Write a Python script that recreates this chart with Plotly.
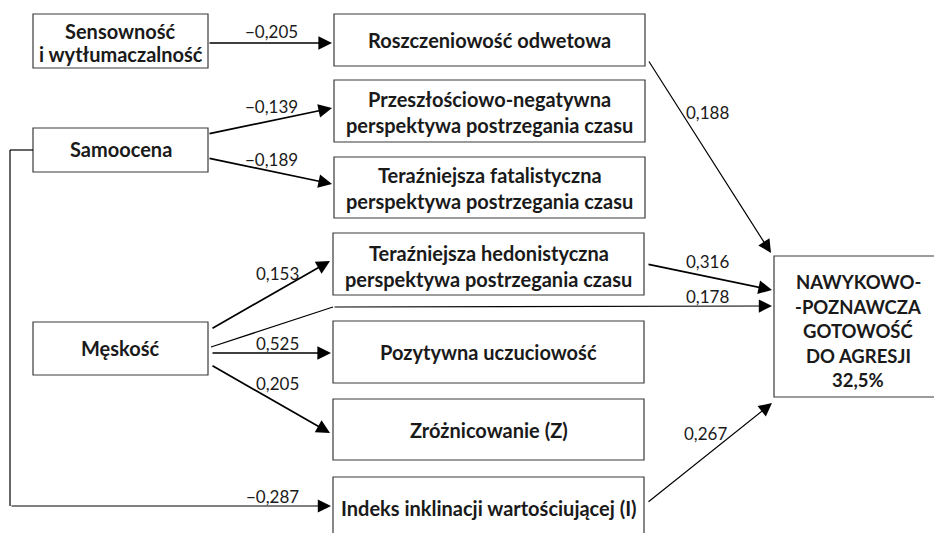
import plotly.graph_objects as go

# ---- data ----
node_ids = ["sens", "samo", "mesk", "rosz", "przesz", "fatal", "hedon", "pozyt", "zroz", "indeks", "target"]
node_lines = [
    ["Sensowność", "i wytłumaczalność"],
    ["Samoocena"],
    ["Męskość"],
    ["Roszczeniowość odwetowa"],
    ["Przeszłościowo-negatywna", "perspektywa postrzegania czasu"],
    ["Teraźniejsza fatalistyczna", "perspektywa postrzegania czasu"],
    ["Teraźniejsza hedonistyczna", "perspektywa postrzegania czasu"],
    ["Pozytywna uczuciowość"],
    ["Zróżnicowanie (Z)"],
    ["Indeks inklinacji wartościującej (I)"],
    ["NAWYKOWO-", "-POZNAWCZA", "GOTOWOŚĆ", "DO AGRESJI", "32,5%"],
]
path_from = ["sens", "samo", "samo", "mesk", "mesk", "mesk", "mesk", "samo", "rosz", "hedon", "indeks"]
path_to = ["rosz", "przesz", "fatal", "hedon", "target", "pozyt", "zroz", "indeks", "target", "target", "target"]
path_coef = ["−0,205", "−0,139", "−0,189", "0,153", "0,178", "0,525", "0,205", "−0,287", "0,188", "0,316", "0,267"]

# ---- layout geometry (pixels) ----
boxes = {
    "sens": (33, 14, 208, 68),
    "samo": (33, 128, 208, 172),
    "mesk": (33, 322, 208, 375),
    "rosz": (334, 14, 645, 66),
    "przesz": (334, 80, 645, 142),
    "fatal": (334, 157, 645, 218),
    "hedon": (333, 233, 644, 295),
    "pozyt": (333, 321, 644, 383),
    "zroz": (333, 399, 644, 460),
    "indeks": (333, 477, 644, 545),
    "target": (774, 256, 950, 397),
}
line_gap = {"sens": 23, "przesz": 26, "fatal": 26, "hedon": 26, "target": 24.5}
text_center_y = {"sens": 42, "samo": 149, "mesk": 348, "rosz": 40, "przesz": 112, "fatal": 188,
                 "hedon": 266, "pozyt": 352, "zroz": 430, "indeks": 508, "target": 331}
text_center_x = {"target": 858}
text_size = {"target": 18.5}
arrow_pts = [
    [(208, 43), (332, 43)],
    [(208, 134), (332, 108)],
    [(208, 158), (332, 184)],
    [(211, 329), (330, 261)],
    [(211, 347), (333, 307), (772, 306)],
    [(211, 353), (331, 353)],
    [(211, 365), (330, 433)],
    [(33, 150), (10, 150), (10, 506), (331, 506)],
    [(648, 60), (771, 253)],
    [(647, 264), (772, 290)],
    [(647, 503), (772, 403)],
]
label_pos = [(271, 31), (271, 106), (271, 159), (277, 273), (707, 296), (277, 343), (277, 383),
             (272, 496), (707, 112), (707, 261), (705, 433)]
thin = [False, False, False, False, True, False, False, True, True, False, True]

TXT = "#1a1a1a"
REG = dict(family="Lato", size=17, color=TXT)

fig = go.Figure()
shapes = []
annotations = []

for nid, lines in zip(node_ids, node_lines):
    x0, y0, x1, y1 = boxes[nid]
    shapes.append(dict(type="rect", x0=x0, y0=y0, x1=x1, y1=y1, xref="x", yref="y",
                       line=dict(color="#3a3a3a", width=1.2), fillcolor="white", layer="below"))
    gap = line_gap.get(nid, 0)
    n = len(lines)
    cx = text_center_x.get(nid, (x0 + x1) / 2)
    bold = dict(family="Lato", size=text_size.get(nid, 20), color=TXT, weight="bold")
    for i, t in enumerate(lines):
        y = text_center_y[nid] + (i - (n - 1) / 2) * gap
        annotations.append(dict(x=cx, y=y, xref="x", yref="y", text=t, showarrow=False,
                                font=bold, xanchor="center", yanchor="middle"))

for pts, coef, lp, th in zip(arrow_pts, path_coef, label_pos, thin):
    w = 1.2 if th else 1.7
    for (xa, ya), (xb, yb) in zip(pts[:-2], pts[1:-1]):
        shapes.append(dict(type="line", x0=xa, y0=ya, x1=xb, y1=yb, xref="x", yref="y",
                           line=dict(color="black", width=w)))
    (xa, ya), (xb, yb) = pts[-2], pts[-1]
    annotations.append(dict(x=xb, y=yb, ax=xa, ay=ya, xref="x", yref="y", axref="x", ayref="y",
                            text="", showarrow=True, arrowhead=2, arrowsize=1.6 if not th else 2.2,
                            arrowwidth=w, arrowcolor="black", standoff=0))
    annotations.append(dict(x=lp[0], y=lp[1], xref="x", yref="y", text=coef, showarrow=False,
                            font=REG, xanchor="center", yanchor="middle"))

# the page body has an 8px margin; offset the ranges so data units equal page pixels
fig.update_layout(
    width=942, height=533, margin=dict(l=0, r=0, t=0, b=0),
    paper_bgcolor="white", plot_bgcolor="white",
    xaxis=dict(range=[8, 950], visible=False, fixedrange=True),
    yaxis=dict(range=[541, 8], visible=False, fixedrange=True),
    shapes=shapes, annotations=annotations, showlegend=False,
)
fig.write_html("out.html")
